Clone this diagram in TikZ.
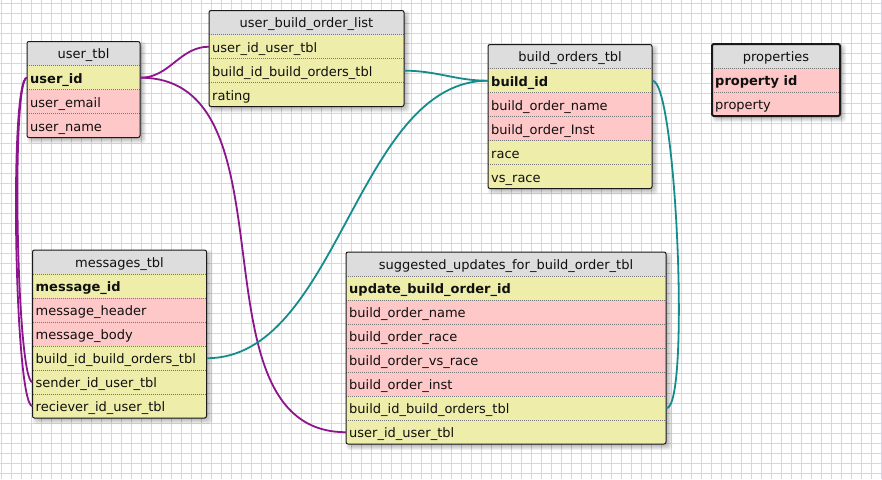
\documentclass[tikz,border=0pt]{standalone}
\usepackage{fontspec}
\setmainfont{DejaVu Sans}
\definecolor{yel}{RGB}{238,238,170}
\definecolor{pnk}{RGB}{255,200,200}
\definecolor{hdrc}{RGB}{221,221,221}
\definecolor{gridc}{RGB}{216,210,240}
\definecolor{purp}{RGB}{140,20,140}
\definecolor{tealc}{RGB}{20,140,140}
\definecolor{sepc}{RGB}{120,120,120}
\definecolor{frc}{RGB}{25,25,25}
\definecolor{txtc}{RGB}{15,15,15}

\tikzset{
  hdrcell/.style={fill=hdrc, draw=none, inner sep=0pt, minimum height=24pt},
  rowcell/.style={draw=none, inner sep=0pt, minimum height=24pt},
  cellfont/.style={inner sep=0pt, text=txtc, font=\fontsize{13}{15}\selectfont},
  sepline/.style={draw=sepc, line width=0.8pt, dash pattern=on 1pt off 1pt},
  gridline/.style={draw=gridc, line width=1pt},
  purpline/.style={draw=purp, line width=1.8pt},
  tealline/.style={draw=tealc, line width=1.8pt},
}

\newcommand\ershadow[4]{%
  \foreach \k in {1,...,6}{\fill[black,opacity=0.05,rounded corners=3pt] ({#1+6-\k},{#2+6-\k}) rectangle ({#1+#3+\k},{#2+#4+\k});}}
\newcommand\erhead[5]{%
  \node[hdrcell, minimum width=#4pt, anchor=north west] (#1) at (#2,#3) {};
  \node[cellfont, anchor=base] (#1-title) at ({#2+#4/2},{#3+17}) {#5};}
\newcommand\errow[6]{%
  \node[rowcell, fill=#5, minimum width=#4pt, anchor=north west] (#1) at (#2,#3) {};
  \node[cellfont, anchor=base west] (#1-t) at ({#2+3},{#3+17.5}) {#6};
  \draw[sepline] (#2,#3) -- ++(#4,0);}
\newcommand\erframe[5]{%
  \draw[line width=#5, rounded corners=2pt, draw=frc] (#1,#2) rectangle ++(#3,#4);}
\newcommand\erclip[4]{\clip[rounded corners=2pt] (#1,#2) rectangle ++(#3,#4);}

\begin{document}
\begin{tikzpicture}[x=1pt,y=-1pt]
\useasboundingbox (0,0) rectangle (882,479);
\fill[white] (0,0) rectangle (882,479);
% grid
\foreach \i in {0,...,88}{\draw[gridline] ({1+10*\i},0) -- ({1+10*\i},479);}
\foreach \j in {0,...,47}{\draw[gridline] (0,{3+10*\j}) -- (882,{3+10*\j});}

% shadows
\ershadow{27}{41.5}{113}{96}
\ershadow{209}{10.5}{195}{96}
\ershadow{488}{44.5}{164}{144}
\ershadow{712}{44}{128}{72}
\ershadow{32.5}{250}{174}{168}
\ershadow{346}{252}{320}{192}

% user_tbl
\begin{scope}
\erclip{27}{41.5}{113}{96}
\erhead{ut}{27}{41.5}{113}{user\_tbl}
\errow{ut-userid}{27}{65.5}{113}{yel}{\bfseries user\_id}
\errow{ut-email}{27}{89.5}{113}{pnk}{user\_email}
\errow{ut-name}{27}{113.5}{113}{pnk}{user\_name}
\end{scope}
\erframe{27}{41.5}{113}{96}{1pt}

% user_build_order_list
\begin{scope}
\erclip{209}{10.5}{195}{96}
\erhead{ubol}{209}{10.5}{195}{user\_build\_order\_list}
\errow{ubol-user}{209}{34.5}{195}{yel}{user\_id\_user\_tbl}
\errow{ubol-build}{209}{58.5}{195}{yel}{build\_id\_build\_orders\_tbl}
\errow{ubol-rating}{209}{82.5}{195}{yel}{rating}
\end{scope}
\erframe{209}{10.5}{195}{96}{1pt}

% build_orders_tbl
\begin{scope}
\erclip{488}{44.5}{164}{144}
\erhead{bo}{488}{44.5}{164}{build\_orders\_tbl}
\errow{bo-build}{488}{68.5}{164}{yel}{\bfseries build\_id}
\errow{bo-name}{488}{92.5}{164}{pnk}{build\_order\_name}
\errow{bo-inst}{488}{116.5}{164}{pnk}{build\_order\_Inst}
\errow{bo-race}{488}{140.5}{164}{yel}{race}
\errow{bo-vs}{488}{164.5}{164}{yel}{vs\_race}
\end{scope}
\erframe{488}{44.5}{164}{144}{1pt}

% properties
\begin{scope}
\erclip{712}{44}{128}{72}
\erhead{pr}{712}{44}{128}{properties}
\errow{pr-id}{712}{68}{128}{pnk}{\bfseries property id}
\errow{pr-prop}{712}{92}{128}{pnk}{property}
\end{scope}
\erframe{712}{44}{128}{72}{2pt}

% messages_tbl
\begin{scope}
\erclip{32.5}{250}{174}{168}
\erhead{msg}{32.5}{250}{174}{messages\_tbl}
\errow{msg-id}{32.5}{274}{174}{yel}{\bfseries message\_id}
\errow{msg-header}{32.5}{298}{174}{pnk}{message\_header}
\errow{msg-body}{32.5}{322}{174}{pnk}{message\_body}
\errow{msg-build}{32.5}{346}{174}{yel}{build\_id\_build\_orders\_tbl}
\errow{msg-sender}{32.5}{370}{174}{yel}{sender\_id\_user\_tbl}
\errow{msg-recv}{32.5}{394}{174}{yel}{reciever\_id\_user\_tbl}
\end{scope}
\erframe{32.5}{250}{174}{168}{1pt}

% suggested_updates_for_build_order_tbl
\begin{scope}
\erclip{346}{252}{320}{192}
\erhead{sug}{346}{252}{320}{suggested\_updates\_for\_build\_order\_tbl}
\errow{sug-id}{346}{276}{320}{yel}{\bfseries update\_build\_order\_id}
\errow{sug-name}{346}{300}{320}{pnk}{build\_order\_name}
\errow{sug-race}{346}{324}{320}{pnk}{build\_order\_race}
\errow{sug-vs}{346}{348}{320}{pnk}{build\_order\_vs\_race}
\errow{sug-inst}{346}{372}{320}{pnk}{build\_order\_inst}
\errow{sug-build}{346}{396}{320}{yel}{build\_id\_build\_orders\_tbl}
\errow{sug-user}{346}{420}{320}{yel}{user\_id\_user\_tbl}
\end{scope}
\erframe{346}{252}{320}{192}{1pt}

% connectors
\draw[purpline] (ut-userid.east) to[out=0,in=180] (ubol-user.west);
\draw[purpline] (ut-userid.east) to[out=0,in=180] (sug-user.west);
\draw[purpline] (ut-userid.west) .. controls +(-16,0) and +(-16,0) .. (msg-sender.west);
\draw[purpline] (ut-userid.west) .. controls +(-18,0) and +(-18,0) .. (msg-recv.west);
\draw[tealline] (ubol-build.east) to[out=0,in=180] (bo-build.west);
\draw[tealline] (msg-build.east) to[out=0,in=180,looseness=0.85] (bo-build.west);
\draw[tealline] (bo-build.east) .. controls +(24,0) and +(24,0) .. (sug-build.east);
\end{tikzpicture}
\end{document}
